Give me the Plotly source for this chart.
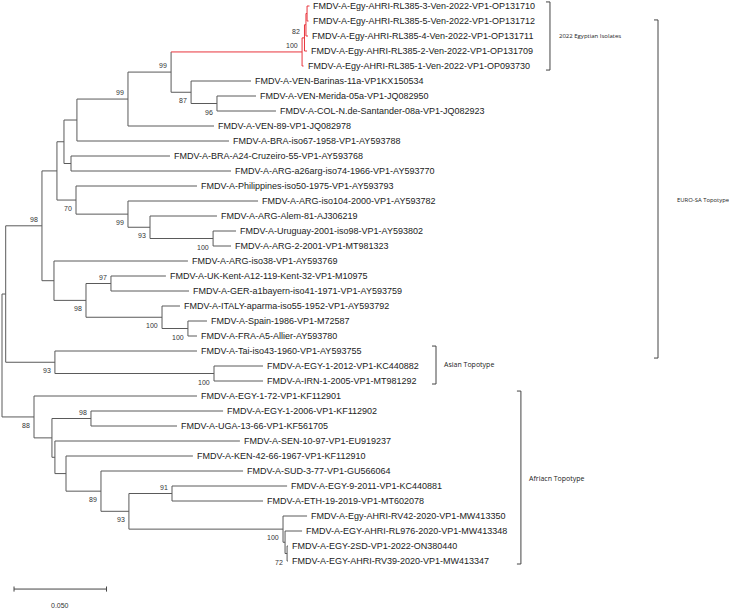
import plotly.graph_objects as go

# ---------------- data ----------------
tip_names = [
    "FMDV-A-Egy-AHRI-RL385-3-Ven-2022-VP1-OP131710",
    "FMDV-A-Egy-AHRI-RL385-5-Ven-2022-VP1-OP131712",
    "FMDV-A-Egy-AHRI-RL385-4-Ven-2022-VP1-OP131711",
    "FMDV-A-Egy-AHRI-RL385-2-Ven-2022-VP1-OP131709",
    "FMDV-A-Egy-AHRI-RL385-1-Ven-2022-VP1-OP093730",
    "FMDV-A-VEN-Barinas-11a-VP1KX150534",
    "FMDV-A-VEN-Merida-05a-VP1-JQ082950",
    "FMDV-A-COL-N.de-Santander-08a-VP1-JQ082923",
    "FMDV-A-VEN-89-VP1-JQ082978",
    "FMDV-A-BRA-iso67-1958-VP1-AY593788",
    "FMDV-A-BRA-A24-Cruzeiro-55-VP1-AY593768",
    "FMDV-A-ARG-a26arg-iso74-1966-VP1-AY593770",
    "FMDV-A-Philippines-iso50-1975-VP1-AY593793",
    "FMDV-A-ARG-iso104-2000-VP1-AY593782",
    "FMDV-A-ARG-Alem-81-AJ306219",
    "FMDV-A-Uruguay-2001-iso98-VP1-AY593802",
    "FMDV-A-ARG-2-2001-VP1-MT981323",
    "FMDV-A-ARG-iso38-VP1-AY593769",
    "FMDV-A-UK-Kent-A12-119-Kent-32-VP1-M10975",
    "FMDV-A-GER-a1bayern-iso41-1971-VP1-AY593759",
    "FMDV-A-ITALY-aparma-iso55-1952-VP1-AY593792",
    "FMDV-A-Spain-1986-VP1-M72587",
    "FMDV-A-FRA-A5-Allier-AY593780",
    "FMDV-A-Tai-iso43-1960-VP1-AY593755",
    "FMDV-A-EGY-1-2012-VP1-KC440882",
    "FMDV-A-IRN-1-2005-VP1-MT981292",
    "FMDV-A-EGY-1-72-VP1-KF112901",
    "FMDV-A-EGY-1-2006-VP1-KF112902",
    "FMDV-A-UGA-13-66-VP1-KF561705",
    "FMDV-A-SEN-10-97-VP1-EU919237",
    "FMDV-A-KEN-42-66-1967-VP1-KF112910",
    "FMDV-A-SUD-3-77-VP1-GU566064",
    "FMDV-A-EGY-9-2011-VP1-KC440881",
    "FMDV-A-ETH-19-2019-VP1-MT602078",
    "FMDV-A-Egy-AHRI-RV42-2020-VP1-MW413350",
    "FMDV-A-EGY-AHRI-RL976-2020-VP1-MW413348",
    "FMDV-A-EGY-2SD-VP1-2022-ON380440",
    "FMDV-A-EGY-AHRI-RV39-2020-VP1-MW413347",
]
# distance from root (substitutions/site)
tip_depth = [
    0.1662, 0.1657, 0.1654, 0.1649, 0.1630,
    0.1346, 0.1373, 0.1481, 0.1146, 0.1227,
    0.0908, 0.1238, 0.1054, 0.1384, 0.1162,
    0.1265, 0.1238, 0.1005, 0.0886, 0.1011,
    0.0962, 0.1108, 0.1054, 0.1054, 0.1411,
    0.1411, 0.1054, 0.1195, 0.0946, 0.1286,
    0.1032, 0.1303, 0.1541, 0.1411, 0.1649,
    0.1622, 0.1546, 0.1546,
]

# internal nodes: name, children (tip indices as ints, nodes as names), depth, bootstrap
node_names = ["root", "A", "EURO", "B", "D", "I", "F", "J", "K", "M", "N", "O",
              "L", "P", "G", "E", "H", "Q", "R", "C", "T", "U", "V", "W",
              "X", "Y", "Z", "AA", "AB", "AC", "AD", "AE", "AF", "AG", "AH", "AJ", "AI"]
node_children = [
    ["A", "Z"], ["EURO", "X"], ["B", "C"], ["D", "E"], ["I", "G"], ["F", 9],
    ["J", 8], ["K", "L"], ["M", 4], ["N", 3], ["O", 2], [0, 1],
    [5, "P"], [6, 7], [10, 11], [12, "H"], [13, "Q"], [14, "R"], [15, 16],
    [17, "T"], ["U", "V"], [18, 19], [20, "W"], [21, 22],
    [23, "Y"], [24, 25], [26, "AA"], ["AB", "AC"], [27, 28], [29, "AD"],
    [30, "AE"], [31, "AF"], ["AG", "AH"], [32, 33], [34, "AJ"], [35, "AI"], [36, 37],
]
node_depth = [
    0.0, 0.0020, 0.0216, 0.0297, 0.0335, 0.0405, 0.0681, 0.0914, 0.1622, 0.1635,
    0.1643, 0.1649, 0.1022, 0.1162, 0.0373, 0.0400, 0.0681, 0.0800, 0.1141,
    0.0281, 0.0454, 0.0589, 0.0865, 0.1005, 0.0286, 0.1146, 0.0173, 0.0270,
    0.0481, 0.0286, 0.0346, 0.0535, 0.0686, 0.0919, 0.1519, 0.1530, 0.1541,
]
node_support = [
    None, None, 98, None, None, None, 99, 99, 100, 82, None, None,
    87, 96, None, 70, 99, 93, 100, None, 98, 97, 100, 100,
    93, 100, 88, None, 98, None, None, 89, 93, 91, 100, None, 72,
]
highlight_node = "K"   # 2022 Egyptian isolates clade (red)

# clade brackets: label, top / bottom (tip-row units), bracket depth, label row
clade_labels = ["2022 Egyptian Isolates", "EURO-SA Topotype", "Asian Topotype", "Afriacn Topotype"]
clade_top = [-0.27, 0.93, 22.67, 25.67]
clade_bottom = [4.27, 23.47, 25.2, 37.2]
clade_x = [0.2962, 0.3546, 0.2346, 0.2805]
clade_label_row = [2.0, 12.93, 23.93, 31.47]
# style for clade labels
clade_label_gap = [7, 17, 6, 6]
clade_label_size = [6.0, 5.9, 7.0, 7.0]

scale_value = 0.05
scale_label = "0.050"
scale_start = 0.0065
scale_row = 38.87

# ---------------- layout of tree ----------------
PX_PER_UNIT = 1850.0
W, H = 729, 609
ROW_PX = 15.0
TOP_PX = 6.0

nodes = {n: (c, d, s) for n, c, d, s in zip(node_names, node_children, node_depth, node_support)}
ypos = {}


def get_y(key):
    if isinstance(key, int):
        return float(key)
    if key in ypos:
        return ypos[key]
    ch = nodes[key][0]
    y = (get_y(ch[0]) + get_y(ch[-1])) / 2.0
    ypos[key] = y
    return y


def get_x(key):
    if isinstance(key, int):
        return tip_depth[key]
    return nodes[key][1]


gray_x, gray_y, red_x, red_y = [], [], [], []
red_set = set()


def collect(root):
    red_set.add(root)
    if not isinstance(root, int):
        for c in nodes[root][0]:
            collect(c)


collect(highlight_node)

for n in node_names:
    ch, d, _ = nodes[n]
    yv = [get_y(c) for c in ch]
    tx, ty = (red_x, red_y) if n in red_set else (gray_x, gray_y)
    tx += [d, d, None]
    ty += [min(yv), max(yv), None]
    for c in ch:
        cx, cy = get_x(c), get_y(c)
        if c in red_set:
            red_x.extend([d, cx, None]); red_y.extend([cy, cy, None])
        else:
            gray_x.extend([d, cx, None]); gray_y.extend([cy, cy, None])

fig = go.Figure()
fig.add_trace(go.Scatter(x=gray_x, y=gray_y, mode="lines",
                         line=dict(color="#5a5a5a", width=1), hoverinfo="skip"))
fig.add_trace(go.Scatter(x=red_x, y=red_y, mode="lines",
                         line=dict(color="#e8343c", width=1), hoverinfo="skip"))

annotations = []
tip_font = dict(family="Liberation Sans, Arial, sans-serif", size=9, color="#222222")
for i, name in enumerate(tip_names):
    annotations.append(dict(x=tip_depth[i], y=i, text=name, xanchor="left", yanchor="middle",
                            xshift=2, showarrow=False, font=tip_font))

sup_font = dict(family="Liberation Sans, Arial, sans-serif", size=7, color="#333333")
for n in node_names:
    ch, d, s = nodes[n]
    if s is None:
        continue
    upper = False
    for p in node_names:
        pc = nodes[p][0]
        if n in pc:
            upper = (pc.index(n) == 0)
    annotations.append(dict(x=d, y=get_y(n), text=str(s), xanchor="right", yanchor="middle",
                            xshift=-2, yshift=(6.5 if upper else -8.5), showarrow=False,
                            font=sup_font))

# clade brackets
tick = 4.0 / PX_PER_UNIT
bx, by = [], []
for lab, t, b, x, r, g, fs in zip(clade_labels, clade_top, clade_bottom, clade_x,
                                  clade_label_row, clade_label_gap, clade_label_size):
    bx += [x - tick, x, x, x - tick, None]
    by += [t, t, b, b, None]
    annotations.append(dict(x=x, y=r, text=lab, xanchor="left", yanchor="middle",
                            xshift=g, showarrow=False,
                            font=dict(family="Open Sans, Noto Sans, sans-serif", size=fs,
                                      color="#222222")))
fig.add_trace(go.Scatter(x=bx, y=by, mode="lines",
                         line=dict(color="#444444", width=1), hoverinfo="skip"))

# scale bar
tk = 0.17
sx = [scale_start, scale_start + scale_value, None, scale_start, scale_start, None,
      scale_start + scale_value, scale_start + scale_value]
sy = [scale_row, scale_row, None, scale_row - tk, scale_row + tk, None,
      scale_row - tk, scale_row + tk]
fig.add_trace(go.Scatter(x=sx, y=sy, mode="lines",
                         line=dict(color="#444444", width=1), hoverinfo="skip"))
annotations.append(dict(x=scale_start + scale_value / 2, y=scale_row, text=scale_label,
                        xanchor="center", yanchor="middle", yshift=-16, showarrow=False,
                        font=sup_font))

x0 = -2.0 / PX_PER_UNIT
fig.update_layout(
    width=W, height=H, margin=dict(l=0, r=0, t=0, b=0),
    paper_bgcolor="white", plot_bgcolor="white", showlegend=False,
    xaxis=dict(range=[x0, x0 + W / PX_PER_UNIT], visible=False, fixedrange=True),
    yaxis=dict(range=[(H - TOP_PX) / ROW_PX, -TOP_PX / ROW_PX], visible=False, fixedrange=True),
    annotations=annotations,
)
fig.write_html("out.html", config={"displayModeBar": False},
               post_script="document.body.style.margin='0';document.body.style.overflow='hidden';")
